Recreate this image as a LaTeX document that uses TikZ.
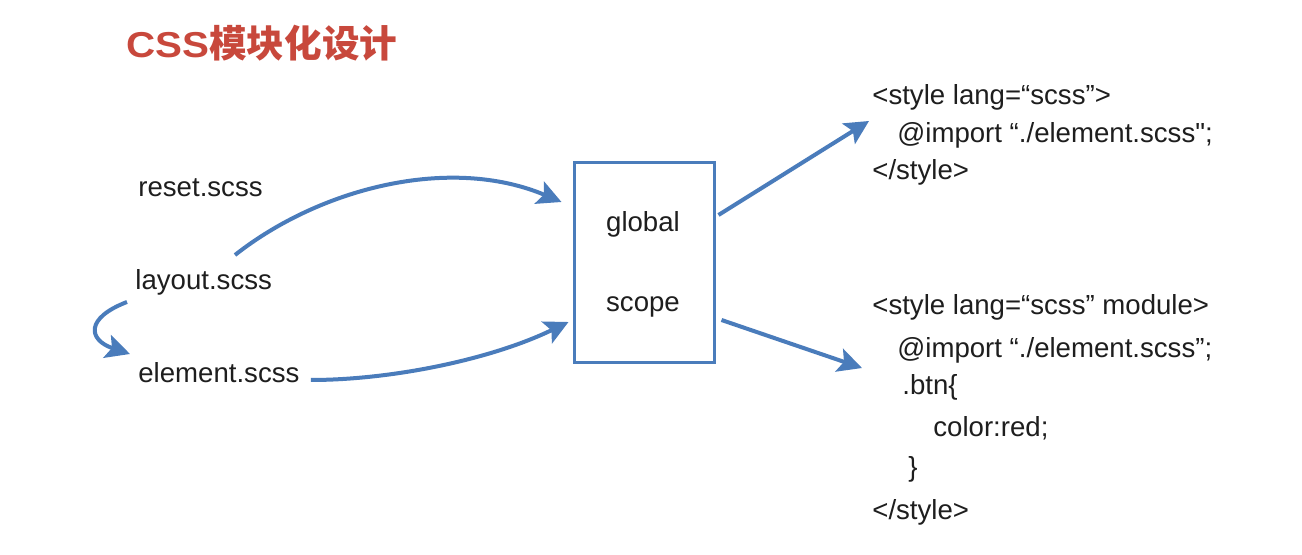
\documentclass[tikz,border=0pt]{standalone}
\usepackage{fontspec}
\setmainfont{Liberation Sans}
\newfontfamily\titlelat{Liberation Sans}[FakeStretch=1.12]
\newfontfamily\rawq{Liberation Sans}
\newfontfamily\cjk{Noto Sans CJK SC}
\usetikzlibrary{arrows.meta,calc}
\definecolor{arrowblue}{RGB}{74,124,187}
\definecolor{titlered}{RGB}{200,72,60}
\definecolor{txt}{RGB}{30,30,30}
\tikzset{
  lbl/.style={inner sep=0pt, text=txt, font=\fontsize{13.8pt}{16pt}\selectfont},
  boxst/.style={draw=arrowblue, line width=1.5pt, minimum width=70pt, minimum height=100pt, inner sep=0pt},
  arr/.style={draw=arrowblue, line width=2pt, -{Stealth[length=12pt,width=12pt,inset=2.5pt]}},
}
\begin{document}
\begin{tikzpicture}[x=0.5pt,y=-0.5pt]
\useasboundingbox[fill=white] (0,0) rectangle (1302,555);
% title
\node[inner sep=0pt, anchor=base west, text=titlered] (title) at (126,58)
  {{\titlelat\bfseries\fontsize{18pt}{20pt}\selectfont CSS}{\cjk\bfseries\fontsize{18.8pt}{20pt}\selectfont 模块化设计}};
% left files
\node[lbl, anchor=base west] (reset) at (138,197) {reset.scss};
\node[lbl, anchor=base west] (layout) at (135,290) {layout.scss};
\node[lbl, anchor=base west] (element) at (138,383) {element.scss};
% box
\node[boxst] (box) at (644,263) {};
\node[lbl, anchor=base] (global) at (643,232) {global};
\node[lbl, anchor=base] (scope) at (643,312) {scope};
% code block 1
\node[lbl, anchor=base west] (c1a) at (872,105) {<style lang=“scss”>};
\node[lbl, anchor=base west] (c1b) at (897,143) {@import “./element.scss{\rawq\char"22};};
\node[lbl, anchor=base west] (c1c) at (872,180) {</style>};
% code block 2
\node[lbl, anchor=base west] (c2a) at (872,315) {<style lang=“scss” module>};
\node[lbl, anchor=base west] (c2b) at (897,358) {@import “./element.scss”;};
\node[lbl, anchor=base west] (c2c) at (902,395) {.btn\{};
\node[lbl, anchor=base west] (c2d) at (933,437) {color:red;};
\node[lbl, anchor=base west] (c2e) at (908,477) {\}};
\node[lbl, anchor=base west] (c2f) at (872,520) {</style>};
% connectors
\draw[arr] ($(layout.base west)+(100,-35)$) .. controls (320,188) and (450,155) .. ($(box.west)+(-11,-61)$);
\draw[arr] ($(element.base east)+(11,-3)$) .. controls (390,380) and (490,360) .. ($(box.west)+(-4,59)$);
\draw[arr] ($(layout.base west)+(-8,12)$) .. controls (85,318) and (88,340) .. ($(element.base west)+(-8,-29)$);
\draw[arr] ($(box.east)+(3,-48)$) -- ($(c1a.base west)+(-3,16)$);
\draw[arr] ($(box.east)+(6,57)$) -- ($(c2b.base west)+(-35,10)$);
\end{tikzpicture}
\end{document}
